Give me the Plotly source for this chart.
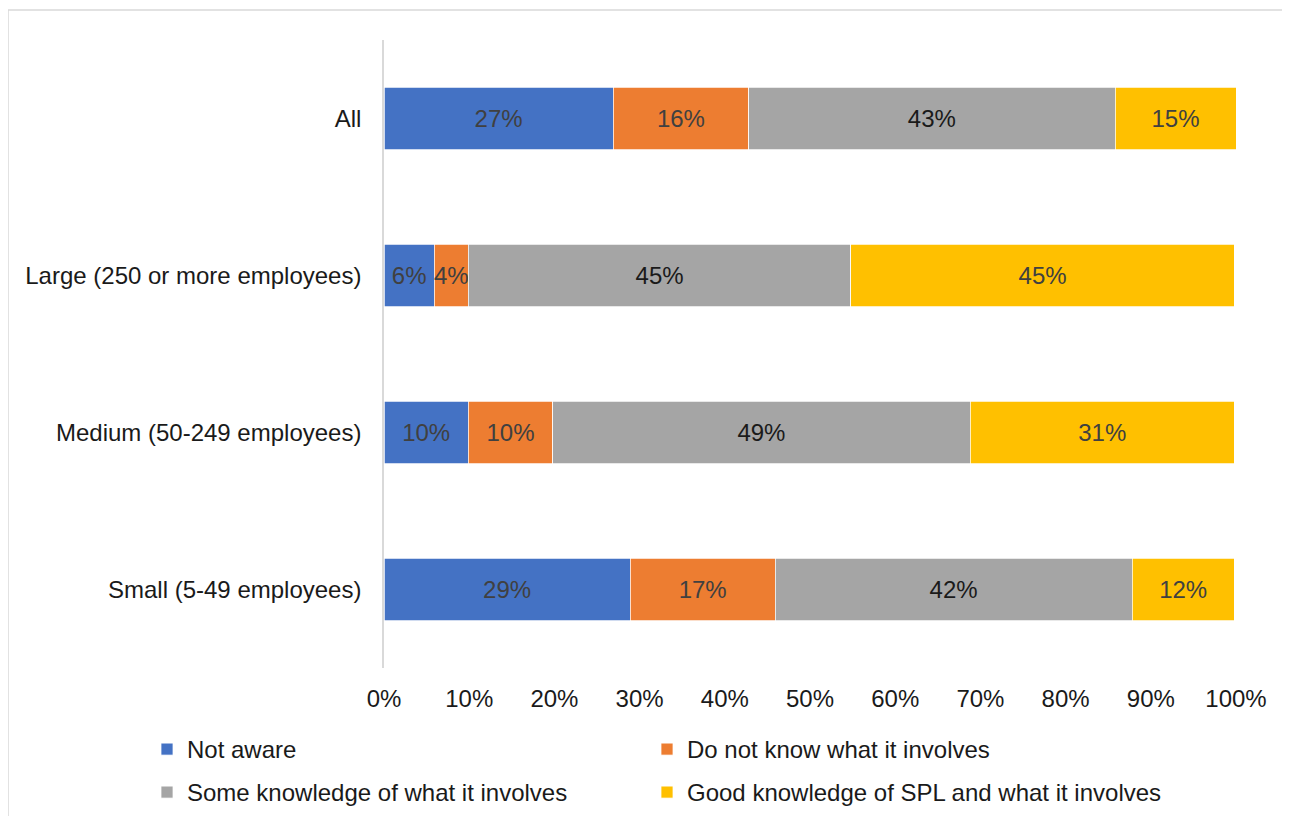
import plotly.graph_objects as go

categories = ["All", "Large (250 or more employees)", "Medium (50-249 employees)", "Small (5-49 employees)"]
series_names = ["Not aware", "Do not know what it involves",
                "Some knowledge of what it involves", "Good knowledge of SPL and what it involves"]
not_aware = [26.9, 5.9, 9.9, 28.9]
do_not_know = [15.9, 4.0, 9.9, 17.0]
some_knowledge = [43.0, 44.9, 49.0, 41.9]
good_knowledge = [14.2, 45.0, 31.0, 12.0]
not_aware_lbl = ["27%", "6%", "10%", "29%"]
do_not_know_lbl = ["16%", "4%", "10%", "17%"]
some_knowledge_lbl = ["43%", "45%", "49%", "42%"]
good_knowledge_lbl = ["15%", "45%", "31%", "12%"]
x_ticks = [0, 10, 20, 30, 40, 50, 60, 70, 80, 90, 100]
x_tick_labels = ["0%", "10%", "20%", "30%", "40%", "50%", "60%", "70%", "80%", "90%", "100%"]

colors = ["#4472C4", "#ED7D31", "#A5A5A5", "#FFC000"]
label_colors = ["#404040", "#404040", "#1a1a1a", "#404040"]
values = [not_aware, do_not_know, some_knowledge, good_knowledge]
labels = [not_aware_lbl, do_not_know_lbl, some_knowledge_lbl, good_knowledge_lbl]
legend_ids = ["legend", "legend2", "legend3", "legend4"]

FONT = "Liberation Sans, Arial, sans-serif"
FS = 24

fig = go.Figure()
for name, vals, lbl, col, lc, lg in zip(series_names, values, labels, colors, label_colors, legend_ids):
    fig.add_trace(go.Bar(
        y=categories, x=vals, name=name, orientation="h",
        marker=dict(color=col, line=dict(color="white", width=0.75)),
        text=lbl, textposition="inside", insidetextanchor="middle", textangle=0,
        textfont=dict(size=FS, color=lc, family=FONT),
        constraintext="none", cliponaxis=False, legend=lg, showlegend=True,
        hoverinfo="skip",
    ))

OFF = 8  # page offset of the figure inside the browser window
W, H = 1290 - OFF, 816 - OFF
L, R, T, B = 384 - OFF, 1236 - OFF, 40 - OFF, 668 - OFF
pw, ph = R - L, B - T

def px(x):
    return (x - L) / pw

def py(y):
    return (B - y) / ph

def leg(x_fig, top_fig):
    return dict(orientation="h", xref="container", yref="container",
                x=x_fig / W, y=1 - top_fig / H, xanchor="left", yanchor="top",
                font=dict(size=FS, color="#1a1a1a"), bgcolor="rgba(0,0,0,0)",
                itemclick=False, itemdoubleclick=False, visible=True)

fig.update_layout(
    width=W, height=H, showlegend=True,
    barmode="stack", bargap=0.6,
    margin=dict(l=L, r=W - R, t=T, b=H - B, pad=0, autoexpand=False),
    paper_bgcolor="white", plot_bgcolor="white",
    font=dict(family=FONT, size=FS, color="#1a1a1a"),
    uniformtext=dict(minsize=FS, mode="show"),
    xaxis=dict(range=[0, 100], tickvals=x_ticks, ticktext=x_tick_labels,
               showgrid=False, zeroline=False, showline=False, ticks="",
               ticklabelstandoff=14,
               tickfont=dict(size=FS, color="#1a1a1a"), fixedrange=True),
    yaxis=dict(autorange="reversed", showgrid=False, zeroline=False,
               showline=True, linecolor="#d9d9d9", linewidth=1.5, ticks="",
               ticklabelstandoff=16, tickfont=dict(size=FS, color="#1a1a1a"),
               fixedrange=True),
    legend=leg(139, 719),
    legend2=leg(639, 719),
    legend3=leg(139, 762),
    legend4=leg(639, 762),
    shapes=[dict(type="rect", xref="paper", yref="paper",
                 x0=px(0), x1=px(W + 20), y0=py(H + 20), y1=py(2),
                 line=dict(color="#d9d9d9", width=1.5), fillcolor="rgba(0,0,0,0)",
                 layer="below")],
)

fig.write_html("out.html")
